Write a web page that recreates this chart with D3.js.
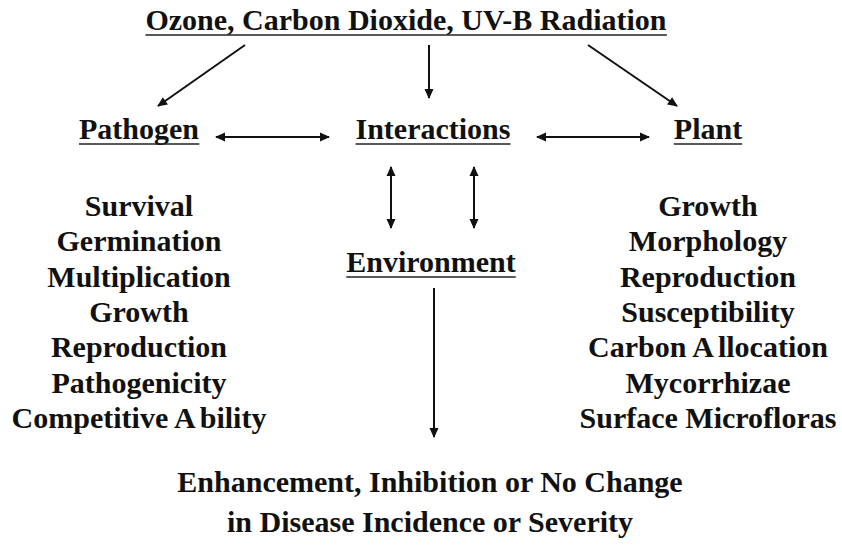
<!DOCTYPE html>
<html>
<head>
<meta charset="utf-8">
<script src="https://cdn.jsdelivr.net/npm/d3@7"></script>
<style>
  body { margin: 0; background: #fff; }
</style>
</head>
<body>
<div id="diagram"></div>
<script>
// labels of the diagram
const title = "Ozone, Carbon Dioxide, UV-B Radiation"
const headings = ["Pathogen", "Interactions", "Plant"]
const environment = "Environment"
const pathogenItems = ["Survival", "Germination", "Multiplication", "Growth", "Reproduction", "Pathogenicity", "Competitive Ability"]
const plantItems = ["Growth", "Morphology", "Reproduction", "Susceptibility", "Carbon Allocation", "Mycorrhizae", "Surface Microfloras"]
const outcome = ["Enhancement, Inhibition or No Change", "in Disease Incidence or Severity"]

function draw_diagram() {
  const width = 842, height = 552
  const ink = "#111"

  const svg = d3.select("#diagram")
    .append("svg")
    .attr("width", width)
    .attr("height", height)

  svg.append("rect").attr("width", width).attr("height", height).attr("fill", "#fff")

  svg.append("defs").append("marker")
      .attr("id", "head")
      .attr("viewBox", "0 0 10 10")
      .attr("refX", 9).attr("refY", 5)
      .attr("markerWidth", 11).attr("markerHeight", 10)
      .attr("markerUnits", "userSpaceOnUse")
      .attr("orient", "auto-start-reverse")
    .append("path")
      .attr("d", "M0,0.5 L10,5 L0,9.5 Z")
      .attr("fill", ink)

  // columns: pathogen / interactions / plant
  const colX = d3.scaleOrdinal().domain(headings).range([139, 433, 708])
  const listY = d3.scalePoint().domain(d3.range(pathogenItems.length)).range([216, 428])

  function label(txt, cx, y, underline) {
    const t = svg.append("text")
      .attr("x", cx).attr("y", y)
      .attr("text-anchor", "middle")
      .style("font-family", "'Liberation Serif', 'Times New Roman', serif")
      .style("font-weight", "bold")
      .style("font-size", "30px")
      .attr("fill", ink)
    // the source leaves a small gap after a lone capital "A"
    const parts = txt.split(/(?<= A)(?=[a-z])/)
    parts.forEach((p, i) => t.append("tspan").attr("dx", i ? 4 : 0).text(p))
    if (underline) {
      const bb = t.node().getBBox()
      svg.append("line")
        .attr("x1", bb.x).attr("x2", bb.x + bb.width)
        .attr("y1", y + 5).attr("y2", y + 5)
        .attr("stroke", "#222").attr("stroke-width", 1.6)
    }
    return t
  }

  label(title, 406, 30, true)
  headings.forEach(h => label(h, colX(h), 139, true))
  label(environment, 431, 272, true)

  pathogenItems.forEach((d, i) => label(d, colX("Pathogen"), listY(i), false))
  plantItems.forEach((d, i) => label(d, colX("Plant"), listY(i), false))

  outcome.forEach((d, i) => label(d, 430, 492 + i * 40, false))

  // arrows: [x1, y1, x2, y2, double-headed]
  const arrows = [
    [245, 45, 158, 106, false],
    [429, 45, 429, 98, false],
    [588, 45, 677, 106, false],
    [216, 137, 329, 137, true],
    [537, 137, 649, 137, true],
    [391, 167, 391, 228, true],
    [474, 167, 474, 228, true],
    [434, 288, 434, 437, false]
  ]

  svg.append("g")
    .selectAll("line")
    .data(arrows)
    .join("line")
      .attr("x1", d => d[0]).attr("y1", d => d[1])
      .attr("x2", d => d[2]).attr("y2", d => d[3])
      .attr("stroke", ink)
      .attr("stroke-width", 2)
      .attr("marker-end", "url(#head)")
      .attr("marker-start", d => d[4] ? "url(#head)" : null)
}

draw_diagram()
</script>
</body>
</html>
